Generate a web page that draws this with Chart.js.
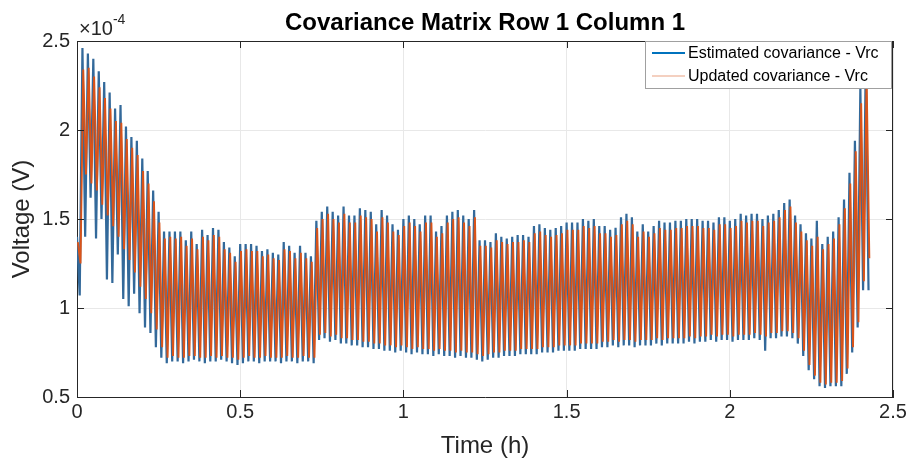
<!DOCTYPE html>
<html>
<head>
<meta charset="utf-8">
<title>Covariance Matrix Row 1 Column 1</title>
<script src="https://cdn.jsdelivr.net/npm/chart.js@4.4.1/dist/chart.umd.min.js"></script>
<style>
  html, body { margin: 0; padding: 0; background: #fff; }
  #wrap { width: 910px; height: 461px; position: relative; }
</style>
</head>
<body>
<div id="wrap"><canvas id="covChart"></canvas></div>
<script>
// Covariance P(1,1) of the RC voltage state.
// One pulse per minute; values are in units of 1e-4 (axis shows x10^-4).
const CYCLE_H = 1 / 60;

// blue: estimated (a priori) covariance, peak and trough of every pulse
const estHigh = [
  1.40, 2.46, 2.43, 2.40, 2.33, 2.27, 2.21, 2.12, 2.14, 2.02, 1.96, 1.94, 1.84, 1.77, 1.66, 1.54,
  1.43, 1.43, 1.43, 1.43, 1.38, 1.43, 1.36, 1.44, 1.41, 1.45, 1.44, 1.37, 1.34, 1.29, 1.36, 1.36,
  1.36, 1.35, 1.32, 1.33, 1.31, 1.30, 1.37, 1.35, 1.31, 1.35, 1.31, 1.29,
  1.49, 1.54, 1.57, 1.54, 1.52, 1.57, 1.52, 1.52, 1.56, 1.55, 1.54, 1.47, 1.55, 1.52, 1.47, 1.44,
  1.50, 1.52, 1.50, 1.47, 1.52, 1.52, 1.43, 1.46, 1.52, 1.54, 1.55, 1.52, 1.50, 1.55, 1.38, 1.38,
  1.37, 1.42, 1.40, 1.39, 1.40, 1.41, 1.41, 1.40, 1.46, 1.47, 1.45, 1.44, 1.45, 1.46, 1.48, 1.48,
  1.48, 1.50, 1.49, 1.50, 1.46,
  1.46, 1.44, 1.45, 1.51, 1.53, 1.51, 1.43, 1.47, 1.43, 1.46, 1.49, 1.48, 1.48, 1.49, 1.49, 1.50,
  1.50, 1.50, 1.49, 1.49, 1.48, 1.51, 1.51,
  1.49, 1.50, 1.53, 1.52, 1.53, 1.53, 1.50, 1.52, 1.53, 1.55, 1.59, 1.61, 1.52, 1.47, 1.42, 1.39,
  1.49, 1.36, 1.40, 1.43, 1.51, 1.61, 1.76, 1.94, 2.24, 2.40
];
const estLow = [
  1.07, 1.40, 1.62, 1.39, 1.50, 1.16, 1.14, 1.30, 1.05, 1.01, 1.08, 0.97, 0.89, 0.86, 0.78, 0.72,
  0.69, 0.70, 0.70, 0.69, 0.70, 0.71, 0.70, 0.69, 0.70, 0.70, 0.71, 0.70, 0.69, 0.68, 0.69, 0.70,
  0.70, 0.69, 0.70, 0.70, 0.70, 0.69, 0.70, 0.70, 0.69, 0.70, 0.70, 0.69,
  0.82, 0.83, 0.81, 0.82, 0.80, 0.80, 0.79, 0.79, 0.78, 0.78, 0.77, 0.77, 0.76, 0.76, 0.75, 0.76,
  0.75, 0.74, 0.75, 0.74, 0.74, 0.73, 0.74, 0.73, 0.73, 0.72, 0.73, 0.72, 0.72, 0.71, 0.70, 0.71,
  0.72, 0.72, 0.73, 0.73, 0.73, 0.74, 0.74, 0.74, 0.74, 0.75, 0.75, 0.75, 0.76, 0.76, 0.76, 0.76,
  0.77, 0.77, 0.77, 0.77, 0.78,
  0.78, 0.79, 0.78, 0.79, 0.79, 0.78, 0.79, 0.79, 0.79, 0.80, 0.79, 0.80, 0.80, 0.80, 0.80, 0.81,
  0.80, 0.81, 0.81, 0.82, 0.81, 0.82, 0.82,
  0.81, 0.82, 0.82, 0.82, 0.83, 0.82, 0.76, 0.83, 0.83, 0.84, 0.84, 0.83, 0.80, 0.73, 0.65, 0.60,
  0.56, 0.55, 0.56, 0.56, 0.56, 0.63, 0.75, 0.89, 1.10, 1.10
];

// orange: updated (a posteriori) covariance
const updHigh = [
  1.37, 2.34, 2.35, 2.30, 2.24, 2.18, 2.12, 2.05, 2.04, 1.95, 1.90, 1.86, 1.77, 1.70, 1.60, 1.48,
  1.39, 1.40, 1.39, 1.40, 1.35, 1.39, 1.33, 1.40, 1.38, 1.41, 1.40, 1.33, 1.31, 1.26, 1.32, 1.33,
  1.32, 1.32, 1.29, 1.30, 1.28, 1.27, 1.33, 1.32, 1.28, 1.31, 1.28, 1.26,
  1.45, 1.50, 1.53, 1.50, 1.48, 1.53, 1.48, 1.48, 1.52, 1.51, 1.50, 1.43, 1.51, 1.48, 1.43, 1.41,
  1.46, 1.48, 1.46, 1.43, 1.48, 1.48, 1.40, 1.42, 1.48, 1.50, 1.51, 1.48, 1.46, 1.51, 1.35, 1.35,
  1.34, 1.38, 1.37, 1.36, 1.37, 1.37, 1.38, 1.37, 1.42, 1.43, 1.41, 1.40, 1.41, 1.42, 1.44, 1.44,
  1.44, 1.46, 1.45, 1.46, 1.42,
  1.42, 1.40, 1.41, 1.47, 1.49, 1.47, 1.40, 1.43, 1.40, 1.42, 1.45, 1.44, 1.44, 1.45, 1.45, 1.46,
  1.46, 1.46, 1.45, 1.45, 1.44, 1.47, 1.47,
  1.45, 1.46, 1.49, 1.48, 1.49, 1.49, 1.46, 1.48, 1.49, 1.51, 1.55, 1.57, 1.48, 1.43, 1.38, 1.35,
  1.40, 1.33, 1.36, 1.39, 1.47, 1.56, 1.70, 1.88, 2.15, 2.30
];
const updLow = [
  1.25, 1.75, 1.70, 1.66, 1.58, 1.52, 1.46, 1.40, 1.33, 1.27, 1.20, 1.12, 1.05, 0.97, 0.88, 0.78,
  0.72, 0.73, 0.72, 0.72, 0.73, 0.73, 0.72, 0.72, 0.73, 0.72, 0.73, 0.72, 0.72, 0.71, 0.72, 0.73,
  0.72, 0.72, 0.73, 0.72, 0.72, 0.72, 0.73, 0.72, 0.72, 0.73, 0.72, 0.72,
  0.85, 0.86, 0.84, 0.85, 0.83, 0.83, 0.82, 0.82, 0.81, 0.81, 0.80, 0.80, 0.79, 0.79, 0.78, 0.79,
  0.78, 0.77, 0.78, 0.77, 0.77, 0.76, 0.77, 0.76, 0.76, 0.75, 0.76, 0.75, 0.75, 0.74, 0.73, 0.74,
  0.75, 0.75, 0.76, 0.76, 0.76, 0.77, 0.77, 0.77, 0.77, 0.78, 0.78, 0.78, 0.79, 0.79, 0.79, 0.79,
  0.80, 0.80, 0.80, 0.80, 0.81,
  0.81, 0.82, 0.81, 0.82, 0.82, 0.81, 0.82, 0.82, 0.82, 0.83, 0.82, 0.83, 0.83, 0.83, 0.83, 0.84,
  0.83, 0.84, 0.84, 0.85, 0.84, 0.85, 0.85,
  0.84, 0.85, 0.85, 0.85, 0.86, 0.85, 0.84, 0.86, 0.86, 0.87, 0.87, 0.86, 0.83, 0.76, 0.68, 0.62,
  0.58, 0.57, 0.58, 0.58, 0.59, 0.66, 0.78, 0.92, 1.15, 1.28
];

const xTicks = [0, 0.5, 1, 1.5, 2, 2.5];
const yTicks = [0.5, 1, 1.5, 2, 2.5];
const seriesNames = ['Estimated covariance - Vrc', 'Updated covariance - Vrc'];

const BLUE = '#0072BD';
const BLUE_TRACE = '#33699a'; // the dense trace reads darker/greyer than the legend swatch
const ORANGE = '#D95319';
const AXIS_COLOR = '#262626';
const FONT = '"Liberation Sans", Arial, Helvetica, sans-serif';

// peak at the start of each minute, trough half a minute later
function pulsePoints(highs, lows, shift) {
  const pts = [];
  highs.forEach((h, i) => {
    pts.push({ x: (i + shift) * CYCLE_H, y: h });
    pts.push({ x: (i + shift + 0.5) * CYCLE_H, y: lows[i] });
  });
  return pts;
}

// Title, exponent label, box ticks and the in-axes legend, MATLAB style
const matlabFrame = {
  id: 'matlabFrame',
  afterDraw(chart) {
    const { ctx, chartArea: a, scales } = chart;
    ctx.save();

    // top and right edges of the box
    ctx.strokeStyle = AXIS_COLOR;
    ctx.lineWidth = 1;
    ctx.beginPath();
    ctx.moveTo(a.left, a.top + 0.5);
    ctx.lineTo(a.right, a.top + 0.5);
    ctx.moveTo(a.right - 0.5, a.top);
    ctx.lineTo(a.right - 0.5, a.bottom);
    ctx.stroke();

    // inward ticks on all four sides
    const len = 7;
    ctx.beginPath();
    xTicks.forEach(v => {
      const px = Math.round(scales.x.getPixelForValue(v)) + 0.5;
      ctx.moveTo(px, a.bottom);
      ctx.lineTo(px, a.bottom - len);
      ctx.moveTo(px, a.top);
      ctx.lineTo(px, a.top + len);
    });
    yTicks.forEach(v => {
      const py = Math.round(scales.y.getPixelForValue(v)) + 0.5;
      ctx.moveTo(a.left, py);
      ctx.lineTo(a.left + len, py);
      ctx.moveTo(a.right, py);
      ctx.lineTo(a.right - len, py);
    });
    ctx.stroke();

    // title
    ctx.fillStyle = '#000';
    ctx.textAlign = 'center';
    ctx.textBaseline = 'alphabetic';
    ctx.font = 'bold 24px ' + FONT;
    ctx.fillText('Covariance Matrix Row 1 Column 1', (a.left + a.right) / 2, a.top - 11);

    // x10^-4 multiplier
    ctx.fillStyle = AXIS_COLOR;
    ctx.textAlign = 'left';
    ctx.font = '20px ' + FONT;
    ctx.fillText('\u00d710', a.left + 2, a.top - 6);
    const w = ctx.measureText('\u00d710').width;
    ctx.font = '14px ' + FONT;
    ctx.fillText('-4', a.left + 2 + w, a.top - 17);

    // legend box in the upper right corner
    const bx = a.right - 248, by = a.top, bw = 246, bh = 47;
    ctx.fillStyle = '#fff';
    ctx.fillRect(bx, by, bw, bh);
    ctx.strokeStyle = '#a0a0a0';
    ctx.lineWidth = 1;
    ctx.strokeRect(bx + 0.5, by + 0.5, bw, bh);
    const rows = [
      { label: seriesNames[0], color: BLUE, width: 2, y: by + 12 },
      { label: seriesNames[1], color: 'rgba(217,83,25,0.55)', width: 1.2, y: by + 35 }
    ];
    ctx.font = '16px ' + FONT;
    ctx.textBaseline = 'middle';
    rows.forEach(r => {
      ctx.strokeStyle = r.color;
      ctx.lineWidth = r.width;
      ctx.beginPath();
      ctx.moveTo(bx + 7, r.y);
      ctx.lineTo(bx + 40, r.y);
      ctx.stroke();
      ctx.fillStyle = '#000';
      ctx.fillText(r.label, bx + 43, r.y + 1);
    });
    ctx.restore();
  }
};

const tickFont = { family: FONT, size: 20 };
const titleFont = { family: FONT, size: 24 };

new Chart(document.getElementById('covChart'), {
  type: 'line',
  data: {
    datasets: [
      {
        label: seriesNames[0],
        data: pulsePoints(estHigh, estLow, 0),
        borderColor: BLUE_TRACE,
        borderWidth: 2.2,
        order: 1
      },
      {
        label: seriesNames[1],
        data: pulsePoints(updHigh, updLow, 0.15),
        borderColor: ORANGE,
        borderWidth: 1.9,
        order: 0
      }
    ]
  },
  options: {
    responsive: true,
    maintainAspectRatio: false,
    animation: false,
    events: [],
    elements: { point: { radius: 0 }, line: { tension: 0, fill: false } },
    layout: { autoPadding: false, padding: { top: 41, right: 17, left: 0, bottom: 0 } },
    plugins: {
      legend: { display: false },
      title: { display: false },
      tooltip: { enabled: false }
    },
    scales: {
      x: {
        type: 'linear',
        min: 0,
        max: 2.5,
        afterBuildTicks: s => { s.ticks = xTicks.map(v => ({ value: v })); },
        afterFit: s => { s.height = 64; },
        ticks: { font: tickFont, color: AXIS_COLOR, padding: 3, maxRotation: 0, callback: v => String(v) },
        grid: { color: '#e8e8e8', drawTicks: false },
        border: { color: AXIS_COLOR, width: 1 },
        title: { display: true, text: 'Time (h)', font: titleFont, color: AXIS_COLOR, padding: { top: 6, bottom: 0 } }
      },
      y: {
        type: 'linear',
        min: 0.5,
        max: 2.5,
        afterBuildTicks: s => { s.ticks = yTicks.map(v => ({ value: v })); },
        afterFit: s => { s.width = 77; },
        ticks: { font: tickFont, color: AXIS_COLOR, padding: 7, callback: v => String(v) },
        grid: { color: '#e8e8e8', drawTicks: false },
        border: { color: AXIS_COLOR, width: 1 },
        title: { display: true, text: 'Voltage (V)', font: titleFont, color: AXIS_COLOR, padding: { top: 8, bottom: 0 } }
      }
    }
  },
  plugins: [matlabFrame]
});
</script>
</body>
</html>
